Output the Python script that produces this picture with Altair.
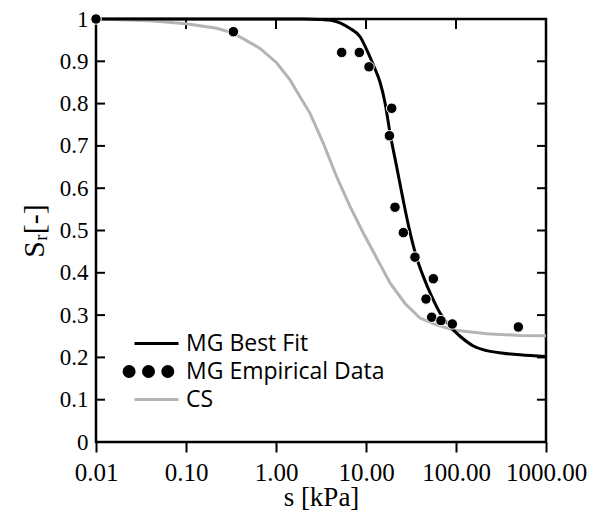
import altair as alt
import pandas as pd

# MG best fit curve
fit_s = [0.01, 0.1, 1, 2, 3.1, 4.3, 6.6, 8.6, 10.2, 12.3, 14.3, 16.3, 18.5, 21.9, 26.0,
         30.8, 36.6, 43.4, 53.7, 66.4, 85.8, 111, 156, 219, 335, 514, 1000]
fit_sr = [1.0, 1.0, 1.0, 1.0, 0.999, 0.996, 0.978, 0.958, 0.927, 0.887, 0.851, 0.801, 0.730,
          0.651, 0.570, 0.496, 0.435, 0.391, 0.344, 0.305, 0.273, 0.250, 0.227, 0.216, 0.210,
          0.206, 0.202]

# CS curve
cs_s = [0.01, 0.04, 0.1, 0.22, 0.34, 0.66, 1.02, 1.43, 1.85, 2.39, 3.36, 4.72, 6.64, 9.33,
        12.1, 18.5, 27.0, 39.8, 61.0, 93.3, 219, 514, 1000]
cs_sr = [1.0, 0.996, 0.989, 0.978, 0.966, 0.931, 0.896, 0.856, 0.816, 0.777, 0.706, 0.627,
         0.557, 0.494, 0.449, 0.376, 0.328, 0.293, 0.277, 0.265, 0.256, 0.252, 0.251]

# MG empirical data
emp_s = [0.01, 0.336, 5.37, 8.43, 10.8, 19.3, 18.2, 21.0, 26.0, 35.0, 56.0, 46.4, 53.7,
         68.1, 91.0, 493]
emp_sr = [1.0, 0.970, 0.921, 0.921, 0.887, 0.789, 0.724, 0.555, 0.495, 0.437, 0.386, 0.338,
          0.295, 0.287, 0.279, 0.272]

x_ticks = [0.01, 0.1, 1, 10, 100, 1000]
y_ticks = [0, 0.1, 0.2, 0.3, 0.4, 0.5, 0.6, 0.7, 0.8, 0.9, 1.0]
inner_x_ticks = [0.1, 1, 10, 100]
inner_y_ticks = [0.1, 0.2, 0.3, 0.4, 0.5, 0.6, 0.7, 0.8, 0.9]

series = ["MG Best Fit", "MG Empirical Data", "CS"]
colors = ["#000000", "#000000", "#b4b4b4"]

fit = pd.DataFrame({"s": fit_s, "sr": fit_sr, "series": series[0]})
emp = pd.DataFrame({"s": emp_s, "sr": emp_sr, "series": series[1]})
cs = pd.DataFrame({"s": cs_s, "sr": cs_sr, "series": series[2]})

serif = "Times New Roman, Liberation Serif, serif"

xscale = alt.Scale(type="log", domain=[0.01, 1000])
yscale = alt.Scale(domain=[0, 1])

x_axis = alt.Axis(values=x_ticks, format=".2f", labelFont=serif, labelFontSize=25,
                  labelColor="black", labelPadding=8, tickSize=10, tickWidth=2,
                  tickColor="black", domain=False, grid=False, labelFlush=False,
                  title="s [kPa]", titleFont=serif, titleFontSize=27,
                  titleFontWeight="normal", titleColor="black",
                  titleY=63, titleBaseline="alphabetic")
y_axis = alt.Axis(values=y_ticks, labelFont=serif, labelFontSize=23, labelColor="black",
                  labelExpr="datum.value == 0 ? '0' : datum.value == 1 ? '1' : format(datum.value, '.1f')",
                  ticks=False, domain=False, grid=False, labelPadding=8, labelFlush=False,
                  title="Sᵣ[-]", titleFont=serif, titleFontSize=30, titleFontWeight="normal",
                  titleColor="black", titlePadding=10)

x_enc = alt.X("s:Q", scale=xscale, axis=x_axis)
y_enc = alt.Y("sr:Q", scale=yscale, axis=y_axis)

dots_path = ("M-6.48,0A1,1 0 1,0 -4.48,0A1,1 0 1,0 -6.48,0Z "
             "M-2.6,0A1,1 0 1,0 -0.6,0A1,1 0 1,0 -2.6,0Z "
             "M1.26,0A1,1 0 1,0 3.26,0A1,1 0 1,0 1.26,0Z")
line_path = "M-4.4,0H4.4"
is_dots = "datum.label === 'MG Empirical Data'"

legend = alt.Legend(
    title=None, orient="none", legendX=49, legendY=313, padding=0,
    labelFont="Open Sans", labelFontSize=23, labelColor="black", labelLimit=0,
    symbolSize=100, labelOffset=18, rowPadding=4,
    symbolType={"expr": f"{is_dots} ? '{dots_path}' : '{line_path}'"},
    symbolFillColor={"expr": f"{is_dots} ? '#000000' : 'transparent'"},
    symbolStrokeColor={"expr": f"{is_dots} ? 'transparent' : datum.label === 'CS' ? '#b4b4b4' : '#000000'"},
    symbolStrokeWidth=3, symbolOpacity=1,
)

color = alt.Color("series:N", scale=alt.Scale(domain=series, range=colors), legend=legend)

cs_line = alt.Chart(cs).mark_line(strokeWidth=3).encode(x=x_enc, y=y_enc, color=color)
fit_line = alt.Chart(fit).mark_line(strokeWidth=3, interpolate="monotone").encode(
    x=x_enc, y=y_enc, color=color)
pts = alt.Chart(emp).mark_circle(size=110, opacity=1, stroke="white", strokeWidth=1).encode(
    x=x_enc, y=y_enc, color=color)

tx = pd.DataFrame({"s": inner_x_ticks})
ty = pd.DataFrame({"sr": inner_y_ticks})
top_ticks = alt.Chart(tx).mark_rule(color="black", strokeWidth=2).encode(
    x=x_enc, y=alt.value(0), y2=alt.value(10))
left_ticks = alt.Chart(ty).mark_rule(color="black", strokeWidth=2).encode(
    y=y_enc, x=alt.value(0), x2=alt.value(9))
right_ticks = alt.Chart(ty).mark_rule(color="black", strokeWidth=2).encode(
    y=y_enc, x=alt.value(450), x2=alt.value(441))

chart = alt.layer(top_ticks, left_ticks, right_ticks, cs_line, fit_line, pts).properties(
    width=450, height=423, autosize="none",
    padding={"left": 88, "top": 11, "right": 45, "bottom": 69},
    background="white",
).configure_view(stroke="black", strokeWidth=2.5)

chart.save("out.html", embed_options={"renderer": "svg", "actions": False})
